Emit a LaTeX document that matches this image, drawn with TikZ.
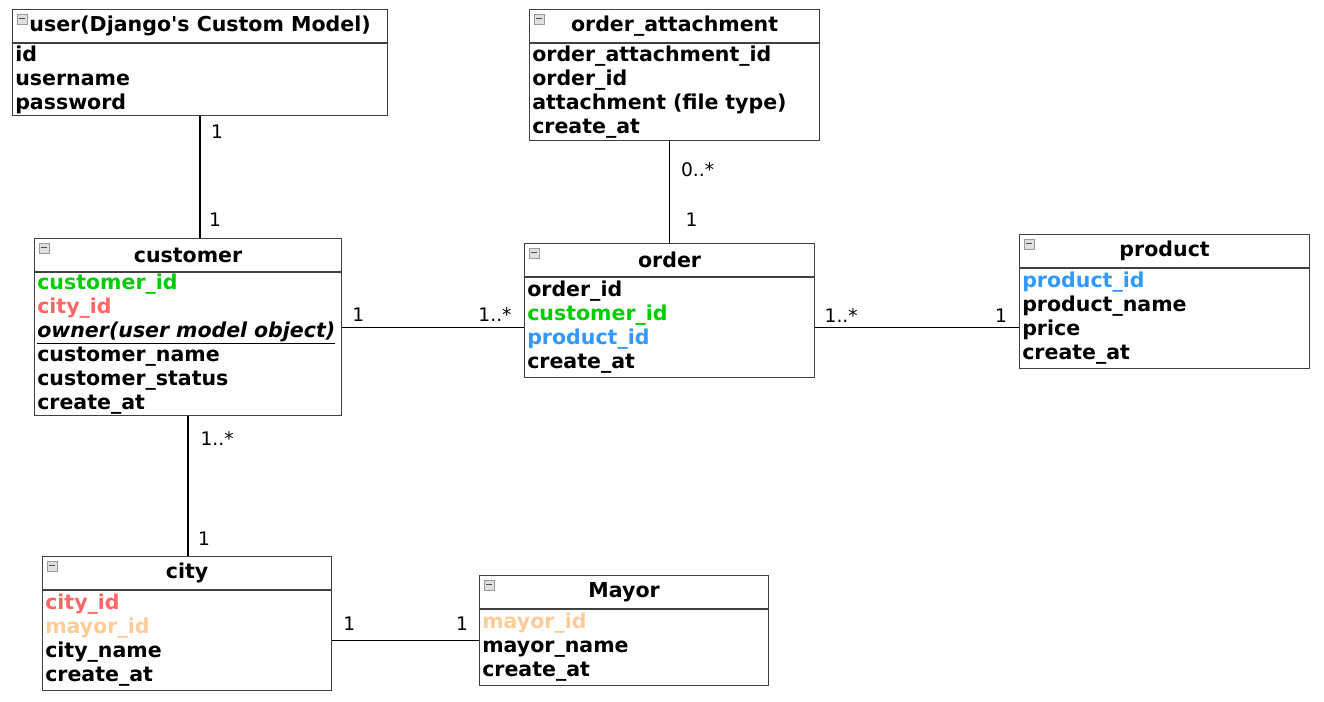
\documentclass[tikz,border=0pt]{standalone}
\usepackage{fontspec}
\setmainfont{DejaVu Sans}
\usetikzlibrary{positioning}
\definecolor{keygreen}{RGB}{0,204,0}
\definecolor{cityred}{RGB}{255,102,102}
\definecolor{prodblue}{RGB}{51,153,255}
\definecolor{mayorpeach}{RGB}{255,204,153}
\tikzstyle{tablehead} = [rectangle, 
draw=black!75, 
line width=0.9pt, 
anchor=north west, 
minimum height=24.5pt, 
inner sep=0pt, 
text centered, 
font=\bfseries\fontsize{15.4}{18}\selectfont]
\tikzstyle{fields} = [rectangle, 
draw=black!75, 
line width=0.9pt, 
align=left, 
inner xsep=2pt, 
inner ysep=1pt, 
font=\bfseries\fontsize{15.4}{18}\selectfont]
\tikzstyle{fold} = [rectangle, draw=gray!80, fill=gray!25, minimum size=7.5pt, inner sep=0pt,
path picture={\draw[black!70, line width=0.8pt] ([xshift=-2pt]path picture bounding box.center) -- ([xshift=2pt]path picture bounding box.center);}]
\tikzstyle{mult} = [font=\fontsize{14}{16}\selectfont, inner sep=0pt]
\tikzstyle{link} = [line width=1pt, black]

\begin{document}
\begin{tikzpicture}[x=0.75pt, y=-0.75pt]
        \useasboundingbox (0,0) rectangle (1324,701);
        % tables
        \node (user) [tablehead, minimum width=281.25pt] at (12,9) {user(Django\textquotesingle s Custom Model)};
        \node (userf) [fields, text width=277.25pt, minimum height=54pt, below=0pt of user] {id\\username\\password};
        \node (oa) [tablehead, minimum width=217.5pt] at (529,9) {order\_attachment};
        \node (oaf) [fields, text width=213.5pt, minimum height=72.75pt, below=0pt of oa] {order\_attachment\_id\\order\_id\\attachment (file type)\\create\_at};
        \node (customer) [tablehead, minimum width=230.25pt] at (34,238) {customer};
        \node (customerf) [fields, text width=226.25pt, minimum height=106.5pt, below=0pt of customer] {\textcolor{keygreen}{customer\_id}\\\textcolor{cityred}{city\_id}\\\underline{\textit{owner(user model object)}}\\customer\_name\\customer\_status\\create\_at};
        \node (order) [tablehead, minimum width=217.5pt] at (524,243) {order};
        \node (orderf) [fields, text width=213.5pt, minimum height=75pt, below=0pt of order] {order\_id\\\textcolor{keygreen}{customer\_id}\\\textcolor{prodblue}{product\_id}\\create\_at};
        \node (product) [tablehead, minimum width=217.5pt] at (1019,234) {product};
        \node (productf) [fields, text width=213.5pt, minimum height=75pt, below=0pt of product] {\textcolor{prodblue}{product\_id}\\product\_name\\price\\create\_at};
        \node (city) [tablehead, minimum width=216.75pt] at (42,556) {city};
        \node (cityf) [fields, text width=212.75pt, minimum height=75pt, below=0pt of city] {\textcolor{cityred}{city\_id}\\\textcolor{mayorpeach}{mayor\_id}\\city\_name\\create\_at};
        \node (mayor) [tablehead, minimum width=216.75pt] at (479,575) {Mayor};
        \node (mayorf) [fields, text width=212.75pt, minimum height=57pt, below=0pt of mayor] {\textcolor{mayorpeach}{mayor\_id}\\mayor\_name\\create\_at};
        % collapse icons
        \node (userfold) [fold, below right=3.5pt and 3.5pt of user.north west] {};
        \node (oafold) [fold, below right=3.5pt and 3.5pt of oa.north west] {};
        \node (customerfold) [fold, below right=3.5pt and 3.5pt of customer.north west] {};
        \node (orderfold) [fold, below right=3.5pt and 3.5pt of order.north west] {};
        \node (productfold) [fold, below right=3.5pt and 3.5pt of product.north west] {};
        \node (cityfold) [fold, below right=3.5pt and 3.5pt of city.north west] {};
        \node (mayorfold) [fold, below right=3.5pt and 3.5pt of mayor.north west] {};
        % relations
        \draw [link] (userf.south) -- (customer.north -| userf.south)
            node (uc1) [mult, at start, shift={(17,16)}] {1}
            node (uc2) [mult, at end, shift={(15,-18)}] {1};
        \draw [link] (oaf.south -| order.north) -- (order.north)
            node (ao1) [mult, at start, shift={(28,29)}] {0..*}
            node (ao2) [mult, at end, shift={(22,-23)}] {1};
        \draw [link] (customerf.east |- orderf.west) -- (orderf.west)
            node (co1) [mult, at start, shift={(16,-13)}] {1}
            node (co2) [mult, at end, shift={(-29,-13)}] {1..*};
        \draw [link] (orderf.east) -- (productf.west |- orderf.east)
            node (op1) [mult, at start, shift={(26,-12)}] {1..*}
            node (op2) [mult, at end, shift={(-18,-12)}] {1};
        \draw [link] (customerf.south) -- (city.north -| customerf.south)
            node (cc1) [mult, at start, shift={(29,22)}] {1..*}
            node (cc2) [mult, at end, shift={(16,-17)}] {1};
        \draw [link] (cityf.east) -- (mayorf.west |- cityf.east)
            node (cm1) [mult, at start, shift={(17,-17)}] {1}
            node (cm2) [mult, at end, shift={(-17,-17)}] {1};
    \end{tikzpicture}
\end{document}
